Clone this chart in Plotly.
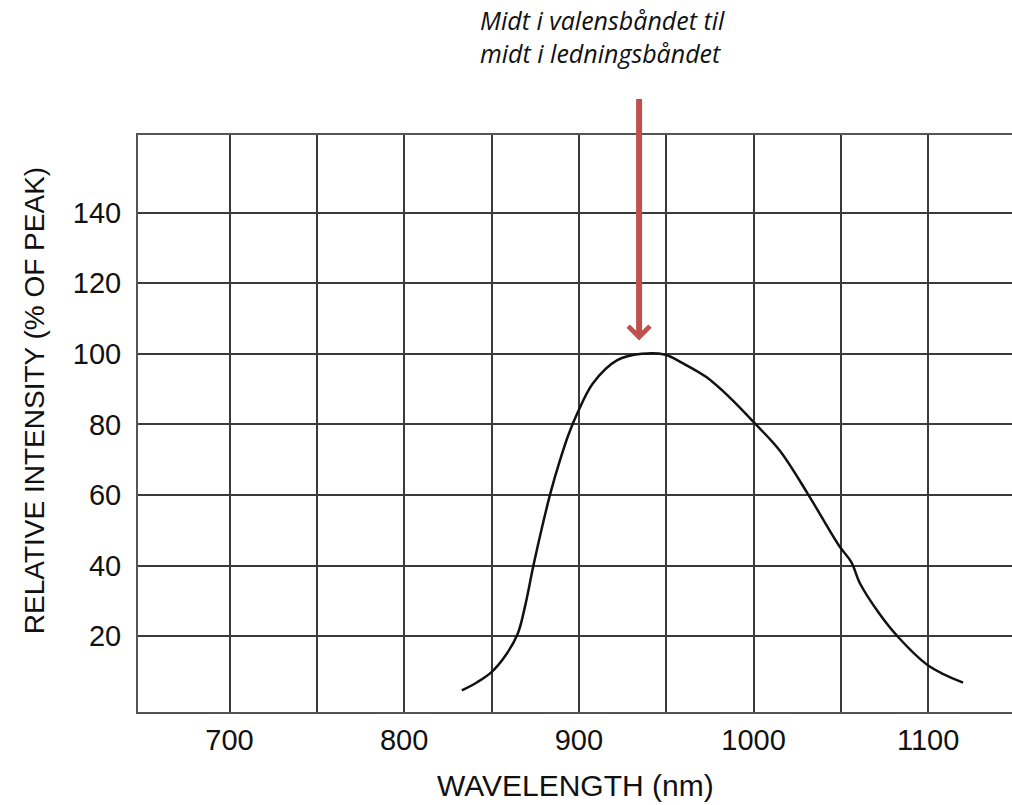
import plotly.graph_objects as go

wavelength_nm = [833, 842, 850, 858, 865, 869, 874, 879, 884, 889, 894, 899, 908, 922, 936, 949,
                 960, 973, 986, 1000, 1015, 1031, 1049, 1056, 1061, 1072, 1082, 1100, 1120]
relative_intensity = [4.6, 7.0, 9.8, 14.5, 20.7, 28.0, 40.0, 51.0, 61.0, 69.5, 77.0, 83.0, 91.6,
                      98.2, 100.0, 99.8, 97.2, 93.4, 87.8, 80.7, 72.6, 60.4, 45.6, 41.0, 34.9,
                      26.4, 20.2, 11.7, 6.8]

x_tick_vals = [700, 800, 900, 1000, 1100]
x_minor_vals = [750, 850, 950, 1050]
y_tick_vals = [20, 40, 60, 80, 100, 120, 140]

arrow_wavelength = 934.5
arrow_tip_value = 103.8
annotation_lines = ["Midt i valensbåndet til", "midt i ledningsbåndet"]

grid_color = "#3a3a3a"
frame_color = "#555555"
arrow_color = "#c0504d"

fig = go.Figure()
fig.add_trace(go.Scatter(
    x=wavelength_nm, y=relative_intensity, mode="lines",
    line=dict(color="#111111", width=2.5, shape="spline", smoothing=1.0),
    showlegend=False, hoverinfo="skip",
))

fig.update_layout(
    width=1012, height=805,
    margin=dict(l=138, r=0, t=135, b=93, pad=0),
    paper_bgcolor="white", plot_bgcolor="white",
    font=dict(family="Liberation Sans, Arial, sans-serif", color="#111111"),
    showlegend=False,
    xaxis=dict(
        range=[647.6, 1148], tickvals=x_tick_vals, ticktext=[str(v) for v in x_tick_vals],
        showgrid=True, gridcolor=grid_color, gridwidth=1.5,
        minor=dict(tickvals=x_minor_vals, showgrid=True, gridcolor=grid_color, gridwidth=1.5),
        showline=True, linecolor=frame_color, linewidth=2, mirror=True,
        ticks="", ticklabelstandoff=1, zeroline=False,
        tickfont=dict(size=29, color="#111111"),
    ),
    yaxis=dict(
        range=[-1.5, 162], tickvals=y_tick_vals, ticktext=[str(v) for v in y_tick_vals],
        showgrid=True, gridcolor=grid_color, gridwidth=1.5,
        showline=True, linecolor=frame_color, linewidth=2,
        ticks="", ticklabelstandoff=9, zeroline=False,
        tickfont=dict(size=29, color="#111111"),
    ),
)

fig.add_annotation(
    x=-0.119, y=0.5405, xref="paper", yref="paper",
    text="RELATIVE INTENSITY (% OF PEAK)", textangle=-90, showarrow=False,
    font=dict(size=28, color="#111111"), xanchor="center", yanchor="middle",
)
fig.add_annotation(
    x=0.5, y=-0.127, xref="paper", yref="paper",
    text="WAVELENGTH (nm)", showarrow=False,
    font=dict(size=30, color="#111111"), xanchor="center", yanchor="middle",
)

fig.add_annotation(
    x=arrow_wavelength, y=arrow_tip_value, xref="x", yref="y",
    ax=0, ay=-243, axref="pixel", ayref="pixel",
    text="", showarrow=True, arrowhead=4, arrowsize=0.7, arrowwidth=6,
    arrowcolor=arrow_color,
)

fig.add_annotation(
    x=842, y=1.171, xref="x", yref="paper",
    text="<br>".join(annotation_lines), showarrow=False,
    xanchor="left", yanchor="middle", align="left",
    font=dict(family="Open Sans, sans-serif", size=25, color="#111111", style="italic"),
)

fig.write_html("out.html", config={"displayModeBar": False},
               post_script="document.body.style.margin='0';")
